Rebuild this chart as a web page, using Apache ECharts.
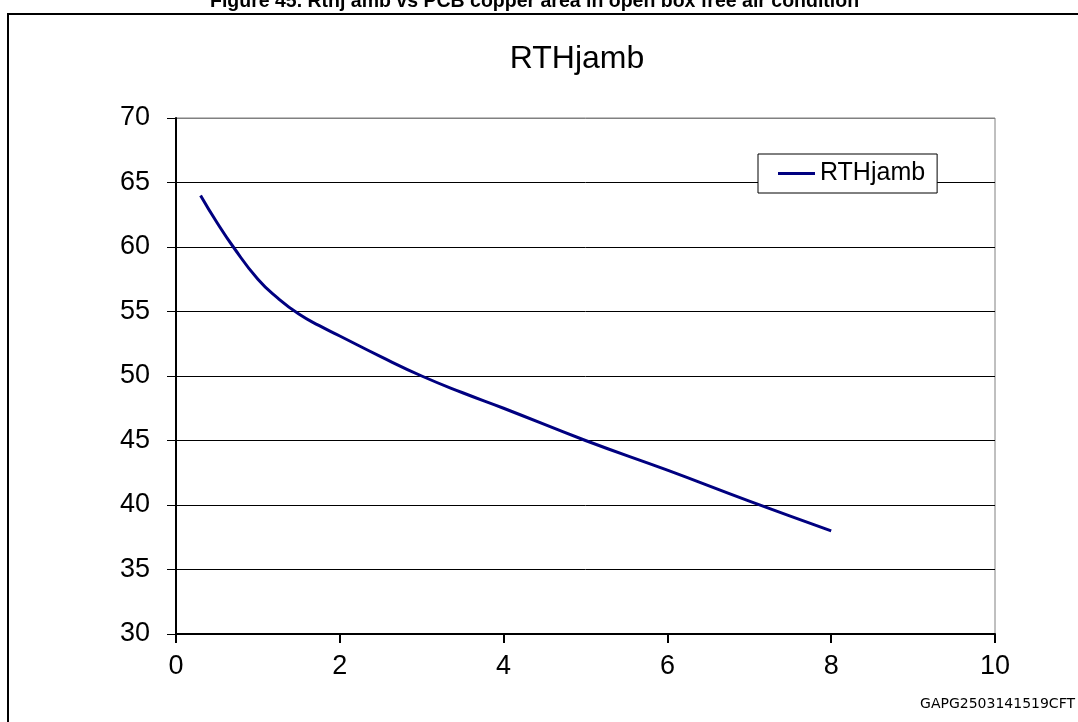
<!DOCTYPE html>
<html>
<head>
<meta charset="utf-8">
<script src="https://cdn.jsdelivr.net/npm/echarts@6/dist/echarts.min.js"></script>
<style>
html,body{margin:0;padding:0;background:#fff;}
#chart{width:1078px;height:722px;}
</style>
</head>
<body>
<div id="chart"></div>
<script>
// Data
const copperArea = [0.3, 0.5, 0.7, 1, 1.25, 1.5, 1.75, 2, 2.5, 3, 3.5, 4, 5, 6, 7, 8];
const rthjamb   = [64, 61.9, 60, 57.5, 56, 54.8, 53.9, 53.1, 51.5, 50, 48.7, 47.5, 45, 42.7, 40.3, 38];
const seriesName = 'RTHjamb';
const chartTitle = 'RTHjamb';
const figureCaption = 'Figure 45. Rthj amb vs PCB copper area in open box free air condition';
const watermark = 'GAPG2503141519CFT';

const points = copperArea.map((x, i) => [x, rthjamb[i]]);

const chart = echarts.init(document.getElementById('chart'), null, {renderer: 'canvas'});
const font = '"Liberation Sans", Arial, sans-serif';

chart.setOption({
  animation: false,
  backgroundColor: '#fff',
  grid: {left: 176, right: 83, top: 118, bottom: 88, show: true, borderColor: '#808080', borderWidth: 1},
  xAxis: {
    type: 'value', min: 0, max: 10, interval: 2,
    axisLine: {show: true, onZero: false, lineStyle: {color: '#000', width: 2}},
    axisTick: {show: true, inside: false, length: 9, lineStyle: {color: '#000', width: 2}},
    axisLabel: {color: '#000', fontSize: 27, fontFamily: font, margin: 19},
    splitLine: {show: false}
  },
  yAxis: {
    type: 'value', min: 30, max: 70, interval: 5,
    axisLine: {show: true, lineStyle: {color: '#000', width: 2}},
    axisTick: {show: true, inside: false, length: 9, lineStyle: {color: '#000', width: 1}},
    axisLabel: {color: '#000', fontSize: 27, fontFamily: font, margin: 26},
    splitLine: {show: true, lineStyle: {color: ['#000','#000','#000','#000','#000','#000','#000','#000','#808080'], width: 1}}
  },
  legend: {
    show: true, left: 758, top: 154,
    data: [{name: seriesName, icon: 'rect'}],
    itemWidth: 37, itemHeight: 3, itemGap: 0,
    padding: [7, 12, 7, 20],
    backgroundColor: '#fff', borderColor: '#000', borderWidth: 1,
    textStyle: {color: '#000', fontSize: 25, fontFamily: font, lineHeight: 25}
  },
  series: [{
    name: seriesName, type: 'line', data: points,
    smooth: 0.5, symbol: 'none', showSymbol: false,
    lineStyle: {color: '#000080', width: 3},
    itemStyle: {color: '#000080'},
    z: 3
  }],
  graphic: [
    {type: 'rect', shape: {x: 8, y: 14, width: 1200, height: 800}, style: {fill: 'none', stroke: '#000', lineWidth: 2}, z: 0, silent: true},
    {type: 'text', x: 577, y: 59, style: {text: chartTitle, fill: '#000', font: '32px ' + font, textAlign: 'center', textVerticalAlign: 'middle'}, z: 10},
    {type: 'text', x: 210, y: 1.5, style: {text: figureCaption, fill: '#000', font: 'bold 19.5px ' + font, textAlign: 'left', textVerticalAlign: 'middle'}, z: 10},
    {type: 'text', x: 1075, y: 704, style: {text: watermark, fill: '#000', font: '14px "DejaVu Sans", sans-serif', textAlign: 'right', textVerticalAlign: 'middle'}, z: 10}
  ]
});
</script>
</body>
</html>
